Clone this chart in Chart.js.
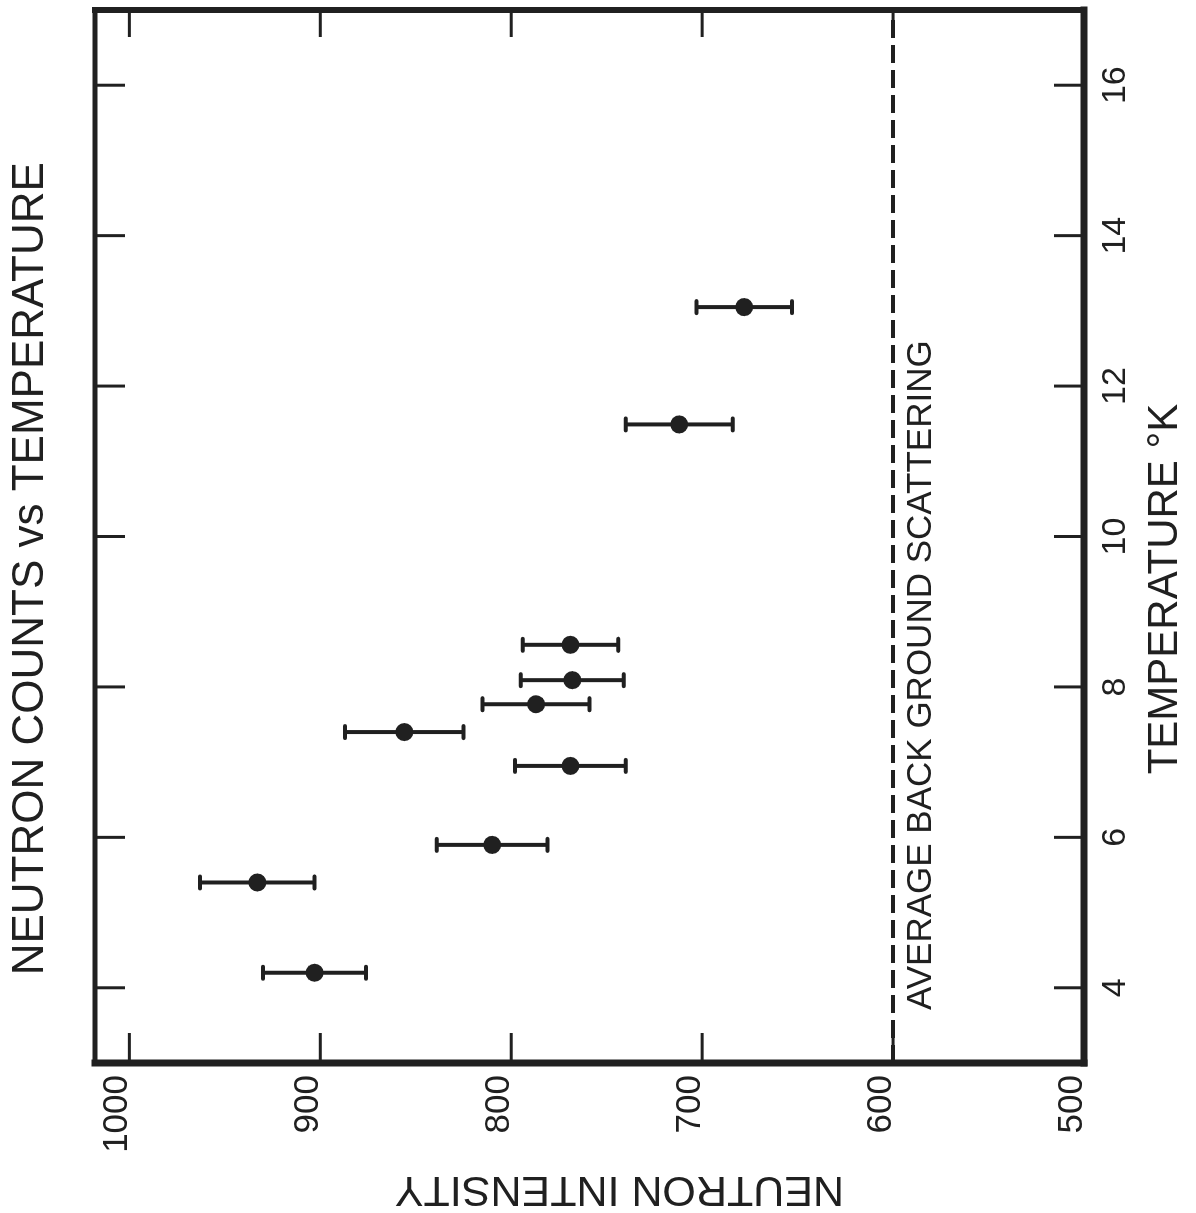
<!DOCTYPE html>
<html>
<head>
<meta charset="utf-8">
<script src="https://cdn.jsdelivr.net/npm/chart.js@4.4.1/dist/chart.umd.min.js"></script>
<style>
html,body{margin:0;padding:0;background:#ffffff;overflow:hidden;width:1196px;height:1213px;}
#wrap{position:absolute;left:0;top:0;width:1213px;height:1196px;transform-origin:0 0;transform:translateY(1213px) rotate(-90deg);}
</style>
</head>
<body>
<div id="wrap"><canvas id="c" width="1213" height="1196"></canvas></div>
<script>
// ---- data ----
const temperatures = [4.2, 5.4, 5.9, 6.95, 7.4, 7.77, 8.09, 8.56, 11.49, 13.05];   // °K
const counts       = [903, 933, 810, 769, 856, 787, 768, 769, 712, 678];           // neutron intensity
const countErrors  = [27, 30, 29, 29, 31, 28, 27, 25, 28, 25];                     // ± error
const backgroundLevel = 600;                                                        // average background scattering
const tempTicks  = [4, 6, 8, 10, 12, 14, 16];
const countTicks = [500, 600, 700, 800, 900, 1000];
const tempRange  = [3, 17];
const countRange = [500, 1018];

const chartTitle = 'NEUTRON COUNTS vs TEMPERATURE';
const xTitle = 'TEMPERATURE °K';
const yTitle = 'NEUTRON INTENSITY';
const bgLabel = 'AVERAGE BACK GROUND SCATTERING';

const ink = '#202020';
const fam = '"Liberation Sans", Arial, sans-serif';

const decorPlugin = {
  id: 'decor',
  beforeDatasetsDraw(chart) {
    const {ctx, scales: {x, y}} = chart;
    ctx.save();
    ctx.strokeStyle = ink;
    ctx.lineWidth = 4;
    temperatures.forEach((t, i) => {
      const px = x.getPixelForValue(t);
      const hi = y.getPixelForValue(counts[i] + countErrors[i]);
      const lo = y.getPixelForValue(counts[i] - countErrors[i]);
      ctx.lineCap = 'butt';
      ctx.beginPath(); ctx.moveTo(px, hi); ctx.lineTo(px, lo); ctx.stroke();
      ctx.lineCap = 'round';
      ctx.beginPath(); ctx.moveTo(px - 6, hi); ctx.lineTo(px + 6, hi); ctx.stroke();
      ctx.beginPath(); ctx.moveTo(px - 6, lo); ctx.lineTo(px + 6, lo); ctx.stroke();
    });
    ctx.restore();
  },
  afterDatasetsDraw(chart) {
    const {ctx, chartArea: a, scales: {x, y}} = chart;
    ctx.save();
    ctx.strokeStyle = ink;
    ctx.lineCap = 'butt';
    // inward ticks, mirrored on both sides
    ctx.lineWidth = 3;
    tempTicks.forEach(t => {
      const px = x.getPixelForValue(t);
      ctx.beginPath(); ctx.moveTo(px, a.bottom); ctx.lineTo(px, a.bottom - 30); ctx.stroke();
      ctx.beginPath(); ctx.moveTo(px, a.top); ctx.lineTo(px, a.top + 30); ctx.stroke();
    });
    countTicks.forEach(v => {
      const py = y.getPixelForValue(v);
      ctx.beginPath(); ctx.moveTo(a.left, py); ctx.lineTo(a.left + 30, py); ctx.stroke();
      ctx.beginPath(); ctx.moveTo(a.right, py); ctx.lineTo(a.right - 27, py); ctx.stroke();
    });
    // frame
    ctx.lineCap = 'square';
    const seg = (w, x1, y1, x2, y2) => { ctx.lineWidth = w; ctx.beginPath(); ctx.moveTo(x1, y1); ctx.lineTo(x2, y2); ctx.stroke(); };
    seg(5, a.left, a.top, a.right, a.top);
    seg(6, a.right, a.top, a.right, a.bottom);
    seg(7, a.left, a.bottom, a.right, a.bottom);
    seg(7, a.left, a.top, a.left, a.bottom);
    // background label
    ctx.fillStyle = ink;
    ctx.font = '35px ' + fam;
    ctx.textAlign = 'left';
    ctx.textBaseline = 'middle';
    ctx.fillText(bgLabel, a.left + 53, y.getPixelForValue(backgroundLevel) + 28);
    ctx.restore();
  }
};

new Chart(document.getElementById('c'), {
  type: 'scatter',
  data: {
    datasets: [
      {
        label: 'counts',
        data: temperatures.map((t, i) => ({x: t, y: counts[i]})),
        pointRadius: 9,
        pointHoverRadius: 9,
        backgroundColor: ink,
        borderWidth: 0,
        showLine: false
      },
      {
        label: 'background',
        type: 'line',
        data: tempRange.map(t => ({x: t, y: backgroundLevel})),
        borderColor: ink,
        borderWidth: 4,
        borderDash: [18, 7],
        pointRadius: 0,
        fill: false
      }
    ]
  },
  options: {
    responsive: false,
    animation: false,
    devicePixelRatio: 1,
    layout: {padding: {left: 0, right: 10, top: 0, bottom: 0}},
    plugins: {
      legend: {display: false},
      tooltip: {enabled: false},
      title: {
        display: true,
        text: '       ' + chartTitle,
        color: ink,
        font: {family: fam, size: 44, weight: 'normal', lineHeight: 1.2},
        padding: {top: 4, bottom: 38.2}
      }
    },
    scales: {
      x: {
        type: 'linear',
        position: 'bottom',
        min: tempRange[0],
        max: tempRange[1],
        afterBuildTicks: s => { s.ticks = tempTicks.map(v => ({value: v})); },
        afterFit: s => { s.height = 112; },
        grid: {display: false, drawTicks: false},
        border: {display: false},
        ticks: {color: ink, font: {family: fam, size: 34}, padding: 11, maxRotation: 0, autoSkip: false,
                callback: v => String(v)},
        title: {display: true, text: xTitle + '         ', color: ink,
                font: {family: fam, size: 42, lineHeight: 1}, padding: {top: 0, bottom: 9.5}}
      },
      y: {
        type: 'linear',
        position: 'left',
        min: countRange[0],
        max: countRange[1],
        afterBuildTicks: s => { s.ticks = countTicks.map(v => ({value: v})); },
        afterFit: s => { s.width = 150; },
        grid: {display: false, drawTicks: false},
        border: {display: false},
        ticks: {color: ink, font: {family: fam, size: 35}, padding: 12, labelOffset: -12, autoSkip: false,
                callback: v => String(v)},
        title: {display: true, text: yTitle + '     ', color: ink,
                font: {family: fam, size: 43, lineHeight: 1}, padding: {top: 2.5, bottom: 0}}
      }
    }
  },
  plugins: [decorPlugin]
});
</script>
</body>
</html>
